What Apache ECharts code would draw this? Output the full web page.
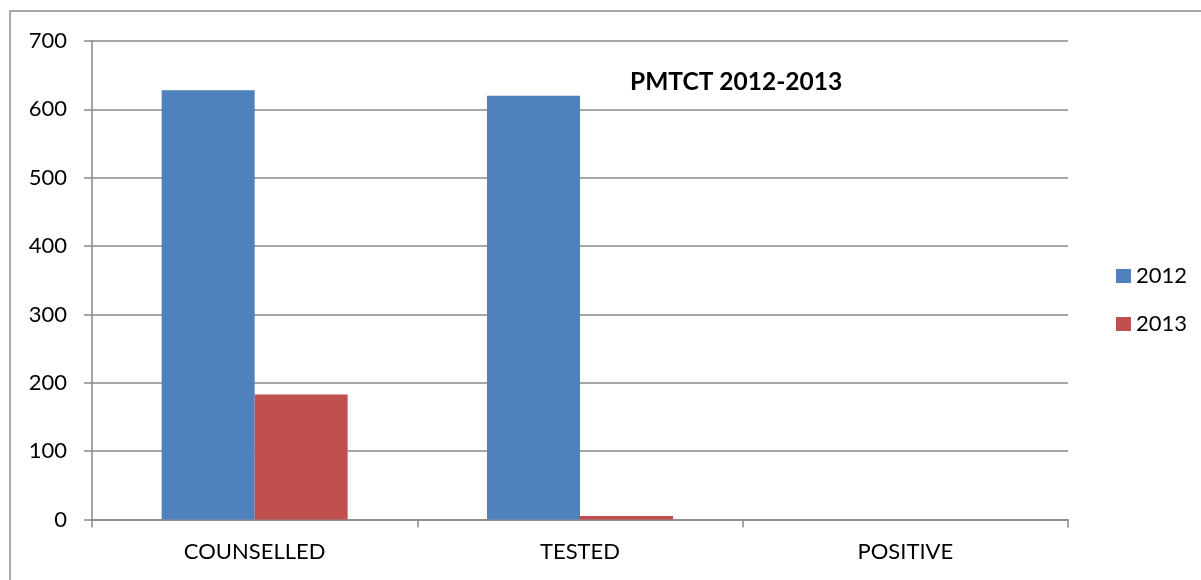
<!DOCTYPE html>
<html>
<head>
<meta charset="utf-8">
<script src="https://cdn.jsdelivr.net/npm/echarts@6/dist/echarts.min.js"></script>
<style>
  html, body { margin: 0; padding: 0; background: #fff; }
  #chart { width: 1201px; height: 580px; }
</style>
</head>
<body>
<div id="chart"></div>
<script>
// data
const categories = ['COUNSELLED', 'TESTED', 'POSITIVE'];
const values2012 = [628, 620, 0];
const values2013 = [183, 5, 0];
const yTicks = { min: 0, max: 700, interval: 100 };

const font = 'Lato, "Open Sans", sans-serif';
const gray = '#888888';

const chart = echarts.init(document.getElementById('chart'));

const option = {
  animation: false,
  textStyle: { fontFamily: font },
  title: {
    text: 'PMTCT 2012-2013',
    left: 630,
    top: 70,
    padding: 0,
    textStyle: { fontFamily: font, fontSize: 24.5, fontWeight: 'bold', color: '#000' }
  },
  // 外框
  graphic: [{
    type: 'rect',
    shape: { x: 10, y: 11, width: 1220, height: 600 },
    style: { fill: 'none', stroke: '#8c8c8c', lineWidth: 1.5 },
    silent: true
  }],
  legend: {
    orient: 'vertical',
    left: 1111,
    top: 260,
    itemWidth: 15,
    itemHeight: 14,
    itemGap: 26,
    icon: 'rect',
    data: ['2012', '2013'],
    textStyle: { fontFamily: font, fontSize: 22, color: '#000', lineHeight: 22 }
  },
  grid: {
    left: 92,
    right: 133,
    top: 41,
    bottom: 60.5
  },
  xAxis: {
    type: 'category',
    data: categories,
    axisLine: { lineStyle: { color: gray, width: 1.5 } },
    axisTick: { show: true, length: 8, lineStyle: { color: gray, width: 1.5 } },
    axisLabel: { color: '#000', fontSize: 22, margin: 21, fontFamily: font }
  },
  yAxis: {
    type: 'value',
    min: yTicks.min,
    max: yTicks.max,
    interval: yTicks.interval,
    axisLine: { show: true, lineStyle: { color: gray, width: 1.5 } },
    axisTick: { show: true, length: 8, lineStyle: { color: gray, width: 1.5 } },
    splitLine: { lineStyle: { color: gray, width: 1.5 } },
    axisLabel: { color: '#000', fontSize: 22, margin: 25, fontFamily: font }
  },
  series: [{
    name: '2012',
    type: 'bar',
    data: values2012,
    barWidth: 93,
    barGap: 0,
    itemStyle: { color: '#4F81BD' }
  }, {
    name: '2013',
    type: 'bar',
    data: values2013,
    barWidth: 93,
    itemStyle: { color: '#C0504D' }
  }]
};

chart.setOption(option);
</script>
</body>
</html>
